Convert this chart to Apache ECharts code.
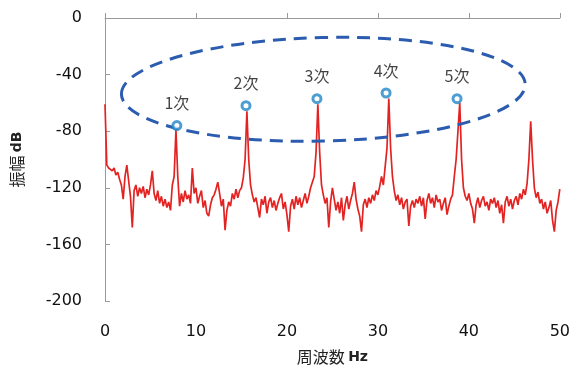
<!DOCTYPE html>
<html><head><meta charset="utf-8">
<script src="https://cdn.jsdelivr.net/npm/echarts@6/dist/echarts.min.js"></script>
<style>html,body{margin:0;padding:0;background:#fff}#c{width:573px;height:370px}</style>
</head><body><div id="c"></div>
<script>
// spectrum amplitude (dB), sampled every 0.2 Hz from 0 to 50 Hz
var freqStep = 0.2;
var amplitude = [
-61,-104,-106,-105,-108,-106,-111,-109,-114,-118,
-128,-112,-104,-115,-126,-148,-122,-118,-126,-120,
-124,-119,-127,-121,-125,-118,-108,-124,-129,-122,
-131,-126,-133,-128,-134,-130,-136,-118,-112,-79,
-112,-133,-124,-130,-122,-128,-125,-131,-106,-124,
-120,-131,-126,-122,-134,-129,-138,-140,-132,-127,
-125,-121,-116,-124,-133,-128,-150,-136,-130,-133,
-124,-128,-121,-127,-122,-120,-113,-100,-66,-100,
-118,-125,-130,-127,-134,-141,-128,-132,-126,-138,
-130,-127,-134,-129,-136,-131,-127,-124,-135,-130,
-139,-151,-133,-128,-135,-126,-132,-127,-134,-129,
-124,-131,-126,-120,-119,-112,-95,-61,-95,-118,
-125,-131,-127,-148,-130,-120,-128,-136,-130,-138,
-127,-143,-132,-126,-135,-129,-124,-116,-128,-135,
-140,-151,-132,-128,-134,-127,-131,-125,-129,-122,
-125,-119,-112,-118,-105,-92,-57,-92,-112,-122,
-129,-125,-132,-127,-135,-130,-128,-147,-133,-129,
-134,-128,-131,-126,-133,-127,-142,-129,-124,-131,
-127,-134,-125,-130,-128,-136,-131,-127,-139,-133,
-128,-125,-112,-100,-100,-60,-100,-120,-126,-129,
-124,-131,-135,-145,-132,-127,-134,-129,-126,-133,
-130,-136,-128,-131,-127,-134,-129,-138,-132,-145,
-130,-126,-133,-128,-135,-129,-126,-132,-124,-128,
-121,-125,-117,-100,-73,-100,-120,-127,-123,-131,
-128,-135,-130,-138,-134,-129,-143,-151,-136,-130,
-121
];
// harmonic markers
var harmonicLabels = ['1次','2次','3次','4次','5次'];
var harmonicFreq = [7.9, 15.5, 23.3, 30.9, 38.7];
var harmonicAmp = [-76, -62, -57, -53, -57];
// axis ticks
var xTicks = [0, 10, 20, 30, 40, 50];
var yTicks = [-200, -160, -120, -80, -40, 0];
// dashed ellipse annotation (data units)
var ellipseCenter = [24.0, -50.4];
var ellipseRadius = [22.2, 36.6];

var lineData = amplitude.map(function (v, i) { return [+(i * freqStep).toFixed(1), v]; });
var markData = harmonicFreq.map(function (f, i) { return { value: [f, harmonicAmp[i]], name: harmonicLabels[i] }; });

var chart = echarts.init(document.getElementById('c'));
var labelFont = 'DejaVu Sans';
chart.setOption({
  animation: false,
  backgroundColor: '#fff',
  grid: { left: 105, right: 10, top: 18, bottom: 68 },
  xAxis: {
    type: 'value', min: xTicks[0], max: xTicks[xTicks.length - 1], interval: 10,
    name: '{a|周波数} {b|Hz}', nameLocation: 'middle', nameGap: 48,
    nameTextStyle: { rich: {
      a: { fontFamily: 'Noto Sans CJK JP', fontSize: 16, color: '#222' },
      b: { fontFamily: 'DejaVu Sans', fontSize: 14, fontWeight: 'bold', color: '#222' } } },
    axisLine: { lineStyle: { color: '#9a9a9a', width: 1 } },
    axisTick: { inside: true, length: 5, lineStyle: { color: '#9a9a9a' } },
    axisLabel: { margin: 23, color: '#111', fontSize: 16, fontFamily: labelFont },
    splitLine: { show: false }
  },
  yAxis: {
    type: 'value', min: yTicks[0], max: yTicks[yTicks.length - 1], interval: 40,
    name: '{a|振幅} {b|dB}', nameLocation: 'middle', nameGap: 80, nameRotate: 90,
    nameTextStyle: { rich: {
      a: { fontFamily: 'Noto Sans CJK JP', fontSize: 16, color: '#222' },
      b: { fontFamily: 'DejaVu Sans', fontSize: 14, fontWeight: 'bold', color: '#222' } } },
    axisLine: { show: true, lineStyle: { color: '#9a9a9a', width: 1 } },
    axisTick: { show: true, inside: true, length: 5, lineStyle: { color: '#9a9a9a' } },
    axisLabel: { margin: 23, color: '#111', fontSize: 16, fontFamily: labelFont },
    splitLine: { show: false }
  },
  series: [
    { type: 'line', data: lineData, showSymbol: false, z: 2,
      lineStyle: { color: '#e32322', width: 1.7 } },
    { type: 'scatter', data: markData, z: 5, symbol: 'circle', symbolSize: 8,
      itemStyle: { color: '#ffffff', borderColor: '#1f86c8', borderWidth: 3 },
      label: { show: true, position: 'top', distance: 9, formatter: '{b}',
        fontFamily: 'Noto Sans CJK JP', fontSize: 16, color: '#111' } }
  ]
});

var c = chart.convertToPixel({ gridIndex: 0 }, ellipseCenter);
var e = chart.convertToPixel({ gridIndex: 0 }, [ellipseCenter[0] + ellipseRadius[0], ellipseCenter[1] + ellipseRadius[1]]);
chart.setOption({
  graphic: [{
    type: 'ellipse', z: 3, silent: true,
    x: c[0], y: c[1], rotation: 0.025,
    shape: { cx: 0, cy: 0, rx: Math.abs(e[0] - c[0]), ry: Math.abs(e[1] - c[1]) },
    style: { fill: 'none', stroke: '#2b5caf', lineWidth: 3, lineDash: [13, 8] }
  }]
});
</script>
</body></html>
